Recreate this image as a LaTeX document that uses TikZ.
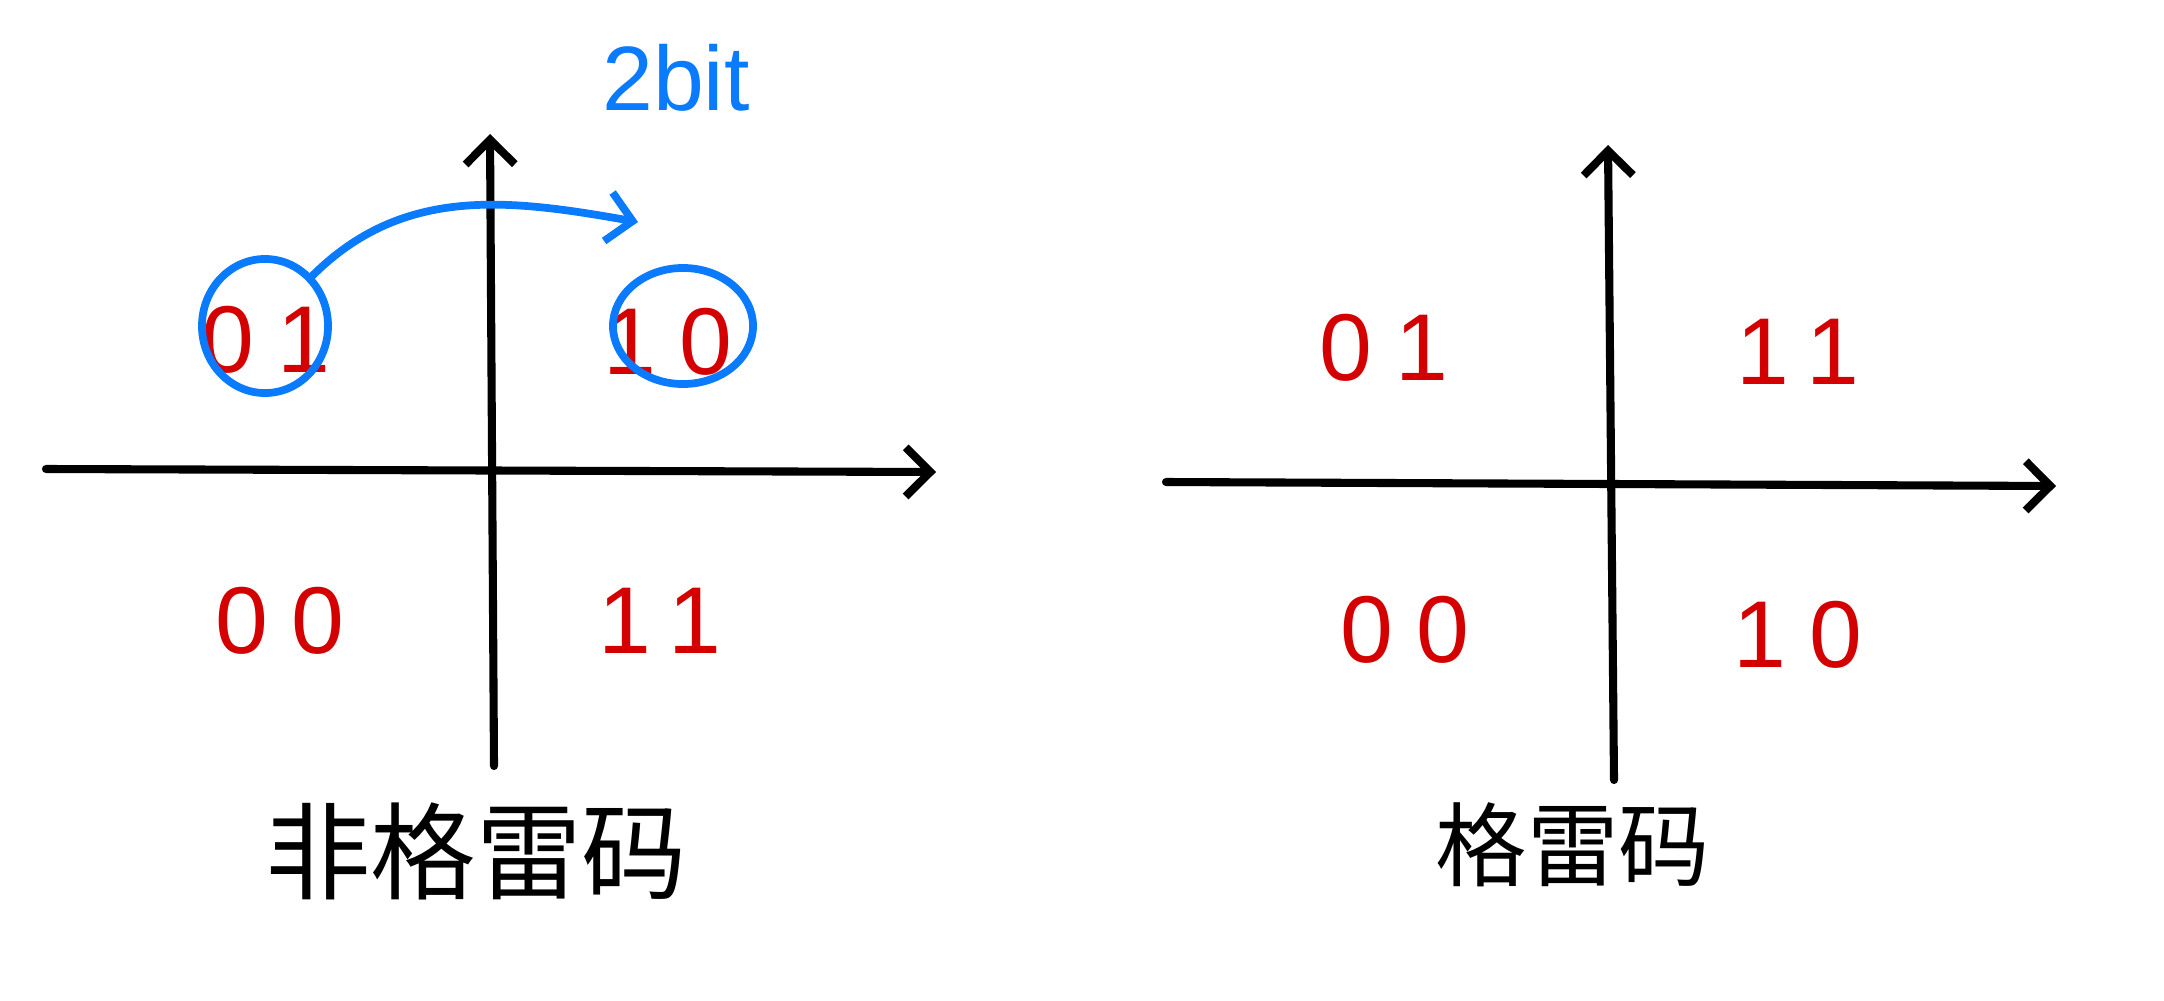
\documentclass[tikz,border=0pt]{standalone}
\usepackage{fontspec}
\setmainfont{Liberation Sans}
\newfontfamily\cjk{Noto Sans CJK SC}
\newfontfamily\digits[LetterSpace=25]{Liberation Sans}
\usetikzlibrary{arrows.meta,shapes.geometric}
\definecolor{penred}{HTML}{D40000}
\definecolor{penblue}{HTML}{0A7AFF}
\tikzset{
  axis/.style={line width=2.3pt,line cap=round,-{Straight Barb[length=7pt,width=14pt,line width=2.3pt]}},
  code/.style={text=penred,font=\digits\fontsize{27}{27}\selectfont},
  ring/.style={draw=penblue,line width=2.2pt,ellipse,inner sep=0pt},
  caption/.style={font=\cjk\fontsize{30}{30}\selectfont}
}
\begin{document}
\begin{tikzpicture}[x=0.01cm,y=-0.01cm]
        \useasboundingbox (0,0) rectangle (2164,1000);
        \coordinate (lw) at (46,469);
        \coordinate (le) at (936,472);
        \coordinate (ls) at (494,766);
        \coordinate (ln) at (490,134);
        \coordinate (rw) at (1166,482);
        \coordinate (re) at (2056,486);
        \coordinate (rs) at (1614,780);
        \coordinate (rn) at (1608,145);
        \draw[axis] (lw) -- (le);
        \draw[axis] (ls) -- (ln);
        \draw[axis] (rw) -- (re);
        \draw[axis] (rs) -- (rn);
        \node[code] (l01) at (266,340){01};
        \node[code] (l10) at (668,342){10};
        \node[code] (l00) at (280,621){00};
        \node[code] (l11) at (660,621){11};
        \node[ring,minimum width=1.26cm,minimum height=1.34cm] (c01) at (265,326){};
        \node[ring,minimum width=1.4cm,minimum height=1.16cm] (c10) at (683,326){};
        \coordinate (hop) at (638,222);
        \draw[penblue,line width=2.2pt,line cap=round,-{Straight Barb[length=7pt,width=14pt,line width=2.2pt]}] (c01.north east) to[out=45,in=170] (hop);
        \node[text=penblue,font=\fontsize{26}{26}\selectfont] (bits) at (676,78){2bit};
        \node[caption] (gl) at (476,851){非格雷码};
        \node[code] (r01) at (1384,348){01};
        \node[code] (r11) at (1798,352){11};
        \node[code] (r00) at (1405,630){00};
        \node[code] (r10) at (1798,635){10};
        \node[caption,font=\cjk\fontsize{26}{26}\selectfont] (gr) at (1573,845){格雷码};
    \end{tikzpicture}
\end{document}
